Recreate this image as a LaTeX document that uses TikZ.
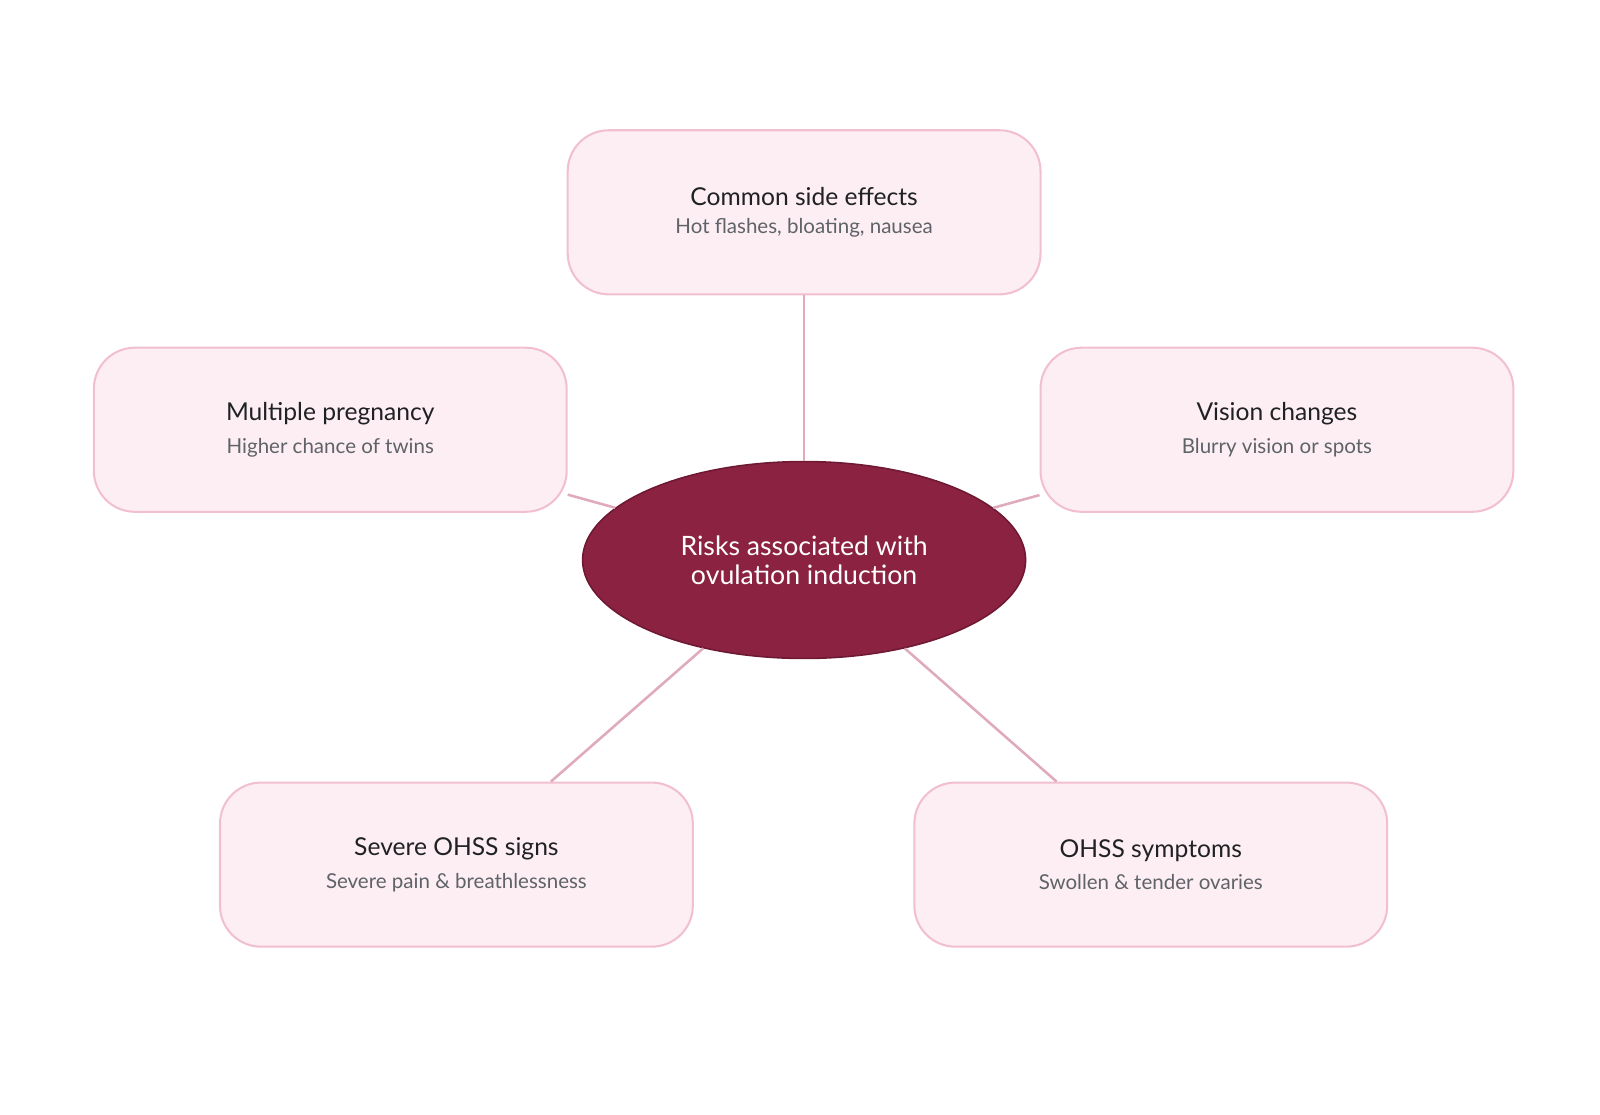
\documentclass[tikz,border=0pt]{standalone}
\usepackage{fontspec}
\setmainfont{Lato}
\usetikzlibrary{shapes.geometric}
\definecolor{boxfill}{HTML}{FCEEF3}
\definecolor{boxline}{HTML}{F2BFD2}
\definecolor{conn}{HTML}{E0AABD}
\definecolor{core}{HTML}{8B2242}
\definecolor{coreline}{HTML}{6E1833}
\definecolor{ttl}{HTML}{202124}
\definecolor{sub}{HTML}{5F6368}
\begin{document}
\begin{tikzpicture}[x=1pt,y=-1pt,
  box/.style={draw=boxline,line width=2pt,fill=boxfill,rounded corners=40pt,minimum width=461pt,minimum height=160pt,align=center,inner sep=0pt},
  conn/.style={draw=conn,line width=2.5pt}]
\useasboundingbox (0,0) rectangle (1560,1087);
\newcommand{\bx}[2]{{\fontsize{24}{30}\selectfont\color{ttl}#1}\\[12pt]{\fontsize{20}{24}\selectfont\color{sub}#2}}
\node[ellipse,draw=coreline,line width=1.5pt,fill=core,minimum width=432pt,minimum height=192pt,align=center,text=white,font=\fontsize{26}{28}\selectfont] (c) at (784,546) {Risks associated with\\ovulation induction};
\node[box] (t) at (784,207) {\bx{Common side effects}{Hot flashes, bloating, nausea}};
\node[box] (l) at (322,419) {\bx{Multiple pregnancy}{Higher chance of twins}};
\node[box] (r) at (1245,419) {\bx{Vision changes}{Blurry vision or spots}};
\node[box] (bl) at (445,843) {\bx{Severe OHSS signs}{Severe pain \& breathlessness}};
\node[box] (br) at (1122,843) {\bx{OHSS symptoms}{Swollen \& tender ovaries}};
\foreach \n in {t,l,r,bl,br} \draw[conn] (c) -- (\n);
\end{tikzpicture}
\end{document}
